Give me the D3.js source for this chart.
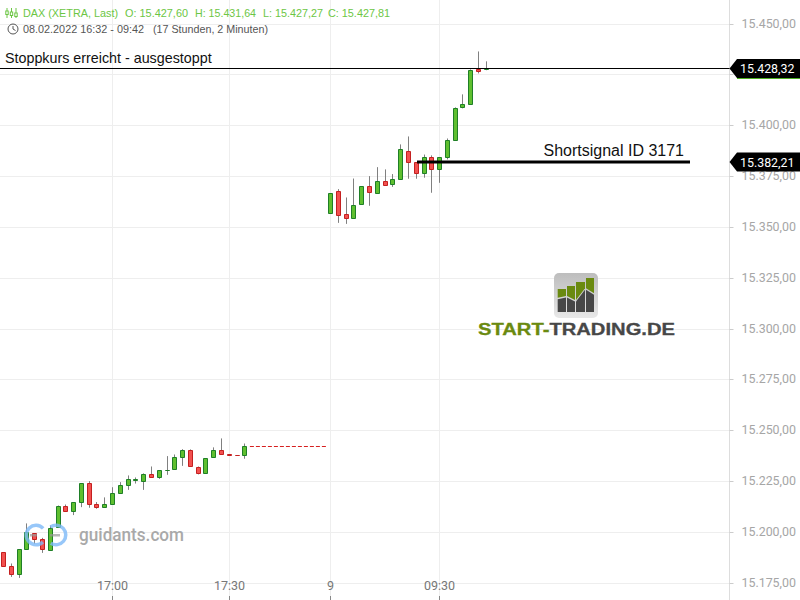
<!DOCTYPE html>
<html><head><meta charset="utf-8">
<script src="https://cdn.jsdelivr.net/npm/d3@7"></script>
<style>html,body{margin:0;padding:0;background:#fff}svg{display:block}text{font-family:Roboto,sans-serif}</style>
</head><body><div id="chart"></div>
<script>
// ---- data ----
const slots = ["16:32","16:34","16:36","16:38","16:40","16:42","16:44","16:46","16:48","16:50","16:52","16:54","16:56","16:58","17:00","17:02","17:04","17:06","17:08","17:10","17:12","17:14","17:16","17:18","17:20","17:22","17:24","17:26","17:28","17:30","17:32","17:34",
 "17:36","17:38","17:40","17:42","17:44","17:46","17:48","17:50","17:52","17:54",
 "09:00","09:02","09:04","09:06","09:08","09:10","09:12","09:14","09:16","09:18","09:20","09:22","09:24","09:26","09:30","09:32","09:34","09:36","09:38","09:40","09:42"];
const times1 = slots.slice(0,32);
const times2 = slots.slice(42);
const open1  = [15189.9,15183.2,15179.1,15191.6,15199.3,15196.5,15191.1,15202.4,15212.7,15210.1,15214.7,15224.0,15213.7,15212.1,15213.7,15219.1,15223.1,15225.5,15225.0,15228.5,15227.0,15230.2,15230.9,15236.8,15240.3,15231.9,15229.0,15236.8,15240.3,15238.3,15237.8,15237.8];
const high1  = [15189.9,15184.7,15191.6,15204.4,15199.3,15197.3,15203.4,15213.2,15213.7,15214.7,15224.0,15225.2,15214.9,15217.2,15222.2,15224.7,15228.0,15227.0,15229.0,15232.4,15230.4,15237.5,15238.3,15240.9,15240.8,15232.4,15236.3,15241.8,15246.2,15238.3,15237.8,15243.7];
const low1   = [15183.2,15178.1,15177.6,15191.6,15194.4,15189.9,15191.1,15202.4,15210.1,15208.5,15212.4,15212.1,15211.6,15212.1,15213.7,15219.1,15220.9,15224.0,15220.9,15227.0,15226.3,15228.3,15230.9,15232.7,15232.4,15228.5,15229.0,15236.8,15238.3,15237.8,15237.6,15236.2];
const close1 = [15183.2,15179.1,15191.6,15199.9,15196.3,15191.6,15201.9,15212.7,15210.1,15214.7,15224.0,15213.7,15212.1,15213.7,15219.1,15223.1,15226.0,15226.0,15228.5,15227.0,15230.4,15230.4,15236.8,15240.3,15232.4,15229.0,15236.3,15240.3,15238.3,15237.8,15237.7,15242.2];
const open2  = [15356.8,15367.6,15356.3,15354.4,15361.2,15370.1,15366.7,15372.6,15371.1,15373.5,15387.3,15381.9,15376.5,15384.4,15378.5,15384.4,15392.7,15409.0,15410.4,15427.7,15427.60];
const high2  = [15366.7,15368.8,15364.7,15374.0,15370.1,15375.2,15379.6,15378.5,15376.2,15390.8,15394.7,15381.9,15385.8,15385.4,15384.4,15393.7,15409.0,15415.4,15427.7,15436.5,15431.64];
const low2   = [15356.8,15352.2,15351.7,15354.4,15361.2,15360.6,15366.7,15370.6,15369.9,15373.5,15373.9,15373.9,15374.4,15367.0,15371.9,15383.4,15392.7,15408.5,15410.4,15425.7,15427.27];
const close2 = [15366.7,15355.8,15354.4,15360.8,15370.1,15367.2,15372.6,15370.6,15373.5,15388.3,15381.9,15376.5,15384.4,15378.5,15384.4,15392.7,15408.5,15410.4,15427.2,15426.7,15427.81];
const priceTicks = [15450,15425,15400,15375,15350,15325,15300,15275,15250,15225,15200,15175];
const hiddenPriceLabels = [15425];
const timeTicks = ["17:00","17:30","09:00","09:30"];
const timeTickLabels = ["17:00","17:30","9","09:30"];
const stopLevel = 15428.32, signalLevel = 15382.21;
const lastClose = 15242.2;

// ---- scales ----
const W=800,H=600,axisX=729.5;
const svg=d3.select("#chart").append("svg").attr("width",W).attr("height",H);
const x=d3.scalePoint().domain(slots).range([3.5,486.3]);
const y=d3.scaleLinear().domain([15175,15450]).range([583.2,24]);
const deFmt=d3.formatLocale({decimal:",",thousands:".",grouping:[3],currency:["","€"]}).format(",.2f");
const px=v=>Math.floor(v)+.5;

// grid
const g=svg.append("g");
g.selectAll("line.h").data(priceTicks).join("line")
 .attr("x1",0).attr("x2",axisX).attr("y1",d=>px(y(d))).attr("y2",d=>px(y(d)))
 .attr("stroke","#eeeeee");
g.selectAll("line.v").data(timeTicks).join("line")
 .attr("x1",d=>px(x(d))).attr("x2",d=>px(x(d))).attr("y1",0).attr("y2",596)
 .attr("stroke","#eeeeee");

// right axis
const yAxis=d3.axisRight(y).tickValues(priceTicks).tickSize(4).tickPadding(8)
 .tickFormat(d=>hiddenPriceLabels.includes(d)?"":deFmt(d));
const ya=svg.append("g").attr("transform",`translate(${axisX},0)`).call(yAxis);
ya.select(".domain").attr("stroke","#dddddd").attr("d",`M0,0V600`);
ya.selectAll(".tick line").attr("stroke","#cccccc");
ya.selectAll(".tick").attr("transform",d=>`translate(0,${px(y(d))})`);
ya.selectAll(".tick text").attr("fill","#a6a6a6").attr("dy","0.3em").style("font-size","12.4px").style("font-family","Roboto");

// bottom axis
const xAxis=d3.axisBottom(x).tickValues(timeTicks).tickSize(4).tickFormat((d,i)=>timeTickLabels[i]);
const xa=svg.append("g").attr("transform","translate(0,596)").call(xAxis);
xa.select(".domain").remove();
xa.selectAll(".tick").attr("transform",d=>`translate(${px(x(d))},0)`);
xa.selectAll(".tick line").attr("stroke","#888888");
xa.selectAll(".tick text").attr("y",-6).attr("dy",0).attr("fill","#777777").style("font-size","12.5px").style("font-family","Roboto");

// candles
function rows(t,o,h,l,c){return t.map((d,i)=>({t:d,o:o[i],h:h[i],l:l[i],c:c[i]}));}
const candles=rows(times1,open1,high1,low1,close1).concat(rows(times2,open2,high2,low2,close2));
const cg=svg.append("g");
cg.selectAll("line.w").data(candles).join("line")
 .attr("x1",d=>px(x(d.t))).attr("x2",d=>px(x(d.t))).attr("y1",d=>y(d.h)).attr("y2",d=>y(d.l))
 .attr("stroke","#808080").attr("stroke-width",1);
cg.selectAll("path.body").data(candles).join("path").attr("class","body")
 .attr("d",d=>{
   const x0=px(x(d.t))-2, t=px(y(Math.max(d.o,d.c))), b=px(y(Math.min(d.o,d.c)));
   return `M${x0},${t}h4V${b}h-4Z`;
 })
 .attr("fill",d=>d.c>=d.o?"#5fbf2f":"#f2504f")
 .attr("stroke",d=>d.c>=d.o?"#1f7f27":"#c42020").attr("stroke-width",1);

// last session close
svg.append("line").attr("x1",x("17:34")+5).attr("x2",x("17:54")+3.7)
 .attr("y1",px(y(lastClose))).attr("y2",px(y(lastClose)))
 .attr("stroke","#d62020").attr("stroke-dasharray","4 2");

// annotations
svg.append("line").attr("x1",0).attr("x2",axisX).attr("y1",px(y(stopLevel))).attr("y2",px(y(stopLevel))).attr("stroke","#000").attr("stroke-width",1);
svg.append("line").attr("x1",417).attr("x2",690).attr("y1",Math.round(y(signalLevel))).attr("y2",Math.round(y(signalLevel))).attr("stroke","#000").attr("stroke-width",3);
svg.append("text").attr("x",5).attr("y",63).text("Stoppkurs erreicht - ausgestoppt").style("font-family","'Liberation Sans'").style("font-size","14.3px").attr("fill","#111");
svg.append("text").attr("x",684).attr("y",156).attr("text-anchor","end").text("Shortsignal ID 3171").style("font-family","'Liberation Sans'").style("font-size","16px").attr("fill","#111");

// price tags
function tag(v,green){
 const c=Math.round(y(v))+(green?.5:0),h=9.5;
 if(green) svg.append("line").attr("x1",737).attr("x2",800).attr("y1",c+h+.5).attr("y2",c+h+.5).attr("stroke","#4caf20").attr("stroke-width",1);
 svg.append("path").attr("d",d3.line()([[axisX,c],[737,c-h],[800,c-h],[800,c+h],[737,c+h]])+"Z").attr("fill","#000");
 svg.append("text").attr("x",740).attr("y",c+4.5).text(deFmt(v)).attr("fill","#fff").style("font-size","12.4px").style("font-family","Roboto");
}
tag(stopLevel,true); tag(signalLevel,false);

// header
const hd=svg.append("g");
const hdrText=(tx,ty,len,s,col)=>hd.append("text").attr("x",tx).attr("y",ty).attr("textLength",len).attr("lengthAdjust","spacingAndGlyphs")
 .attr("fill",col).style("font-family","'Liberation Sans'").style("font-size","11px").text(s);
hdrText(23,17,95,"DAX (XETRA, Last)","#6cc644");
hdrText(125,17,63,"O: 15.427,60","#6cc644");
hdrText(195,17,61,"H: 15.431,64","#6cc644");
hdrText(263,17,60,"L: 15.427,27","#6cc644");
hdrText(328,17,62,"C: 15.427,81","#6cc644");
hdrText(23,33,121,"08.02.2022 16:32 - 09:42","#555");
hdrText(153,33,115,"(17 Stunden, 2 Minuten)","#555");
[7,11.5,16].forEach((ix,i)=>{
 hd.append("line").attr("x1",ix).attr("x2",ix).attr("y1",8).attr("y2",18).attr("stroke","#6cc644");
 hd.append("rect").attr("x",ix-1.2).attr("y",[11,12,13][i]).attr("width",2.4).attr("height",3.5).attr("fill","#fff").attr("stroke","#6cc644");
});
hd.append("circle").attr("cx",13).attr("cy",29).attr("r",5).attr("fill","none").attr("stroke","#555").attr("stroke-width",1);
hd.append("path").attr("d","M13,26V29L15.5,30.5").attr("fill","none").attr("stroke","#555");

// guidants watermark
const wm=svg.append("g");
const ring=d3.arc().innerRadius(8).outerRadius(11.5);
wm.append("path").attr("d",ring({startAngle:2.36,endAngle:7.11})).attr("transform","translate(36,535)").attr("fill","#7db9f7").attr("opacity",.8);
wm.append("path").attr("d",ring({startAngle:-0.6,endAngle:3.7})).attr("transform","translate(56,535)").attr("fill","#7db9f7").attr("opacity",.8);
wm.append("rect").attr("x",30).attr("y",534).attr("width",7).attr("height",2.5).attr("fill","#999").attr("opacity",.7);
wm.append("rect").attr("x",50).attr("y",534).attr("width",10).attr("height",2.5).attr("fill","#999").attr("opacity",.7);
wm.append("text").attr("x",79).attr("y",541).attr("textLength",105).attr("lengthAdjust","spacingAndGlyphs").text("guidants.com").attr("fill","#a9a9a9").style("font-size","17.5px").style("font-weight",500);

// start-trading logo
const lg=svg.append("g");
const defs=svg.append("defs");
const gr=defs.append("linearGradient").attr("id","lgbg").attr("x1",0).attr("x2",0).attr("y1",0).attr("y2",1);
gr.append("stop").attr("offset","0").attr("stop-color","#bdbdbd");
gr.append("stop").attr("offset","1").attr("stop-color","#e8e8e8");
lg.append("rect").attr("x",554).attr("y",273).attr("width",44).attr("height",45).attr("rx",5).attr("fill","url(#lgbg)");
const logoCols=[[557.7,566,289,297.7,296],[567,575,286,296,300],[576,585,282,300,288.3],[586,594,278,288.3,293.3]];
logoCols.forEach(c=>{
 lg.append("path").attr("d",`M${c[0]},${c[2]}H${c[1]}V${c[4]}L${c[0]},${c[3]}Z`).attr("fill","#6a8a10");
 lg.append("path").attr("d",`M${c[0]},${c[3]+1.5}L${c[1]},${c[4]+1.5}V312H${c[0]}Z`).attr("fill","#474747");
});
lg.append("text").attr("x",478).attr("y",335).attr("textLength",197).attr("lengthAdjust","spacingAndGlyphs")
 .style("font-family","'Liberation Sans'").style("font-weight",700).style("font-size","16.8px").attr("stroke-width",.3)
 .html('<tspan fill="#6a8a10" stroke="#6a8a10">START-</tspan><tspan fill="#474747" stroke="#474747">TRADING.DE</tspan>');
</script></body></html>
